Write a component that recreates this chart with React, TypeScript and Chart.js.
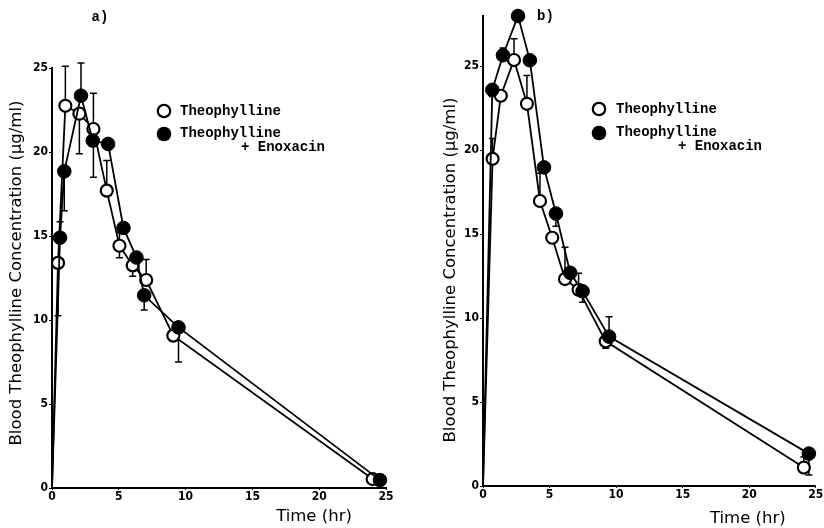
import React, { useEffect, useRef } from "react";
import { Chart, registerables } from "chart.js";

Chart.register(...registerables);

// ---------- shared labels ----------
const X_TICKS = [0, 5, 10, 15, 20, 25];
const Y_TICKS = [0, 5, 10, 15, 20, 25];
const X_TITLE = "Time (hr)";
const Y_TITLE = "Blood Theophylline Concentration (\u00b5g/ml)";
const LEGEND_OPEN = "Theophylline";
const LEGEND_FILLED_1 = "Theophylline";
const LEGEND_FILLED_2 = "+ Enoxacin";

// ---------- panel a ----------
const aTheoTime = [0, 0.45, 1.0, 2.05, 3.1, 4.1, 5.05, 6.04, 7.05, 9.08, 24.0];
const aTheoConc = [0, 13.4, 22.75, 22.28, 21.37, 17.7, 14.42, 13.25, 12.38, 9.07, 0.53];
const aTheoErrHi = [null, null, 25.1, null, 23.5, 19.5, 15.2, null, 13.6, null, null];
const aTheoErrLo = [null, 10.25, null, 19.9, 18.5, null, 13.7, 12.6, null, null, null];

const aEnoxTime = [0, 0.6, 0.92, 2.17, 3.05, 4.2, 5.35, 6.32, 6.9, 9.47, 24.55];
const aEnoxConc = [0, 14.9, 18.85, 23.35, 20.68, 20.48, 15.48, 13.72, 11.47, 9.56, 0.47];
const aEnoxErrHi = [null, 15.85, null, 25.3, null, null, null, null, null, 9.86, null];
const aEnoxErrLo = [null, null, 16.5, null, null, null, null, null, 10.6, 7.5, null];

// ---------- panel b ----------
const bTheoTime = [0, 0.72, 1.34, 2.33, 3.3, 4.28, 5.2, 6.16, 7.18, 9.22, 24.1];
const bTheoConc = [0, 19.49, 23.25, 25.38, 22.77, 16.98, 14.79, 12.33, 11.69, 8.62, 1.1];
const bTheoErrHi = [null, 20.7, null, 26.65, 24.45, 18.63, null, 14.22, 12.68, null, 1.73];
const bTheoErrLo = [null, null, null, null, null, null, null, null, null, 8.2, null];

const bEnoxTime = [0, 0.7, 1.5, 2.63, 3.52, 4.58, 5.48, 6.55, 7.48, 9.47, 24.48];
const bEnoxConc = [0, 23.6, 25.66, 28.0, 25.36, 18.98, 16.23, 12.7, 11.6, 8.9, 1.93];
const bEnoxErrHi = [null, null, 26.1, null, null, null, null, null, null, 10.09, null];
const bEnoxErrLo = [null, 23.2, null, null, null, null, 15.48, null, 10.95, null, 0.66];

const TICK_FONT_FAMILY = '"Liberation Sans Narrow", "DejaVu Sans Condensed", "Liberation Sans", sans-serif';
const LEGEND_FONT = 'bold 14px "Liberation Mono", "DejaVu Sans Mono", monospace';
const TITLE_FONT = '16.5px "DejaVu Sans", sans-serif';

type PanelCfg = {
  left: number;
  label: string;
  labelX: number;
  labelY: number;
  yMax: number;
  padTop: number;
  padRight: number;
  yWidth: number;
  xHeight: number;
  legMarkX: number;
  legTextX: number;
  legY1: number;
  legY2: number;
  legText2X: number;
  legY3: number;
  xTitleOffset: number;
  xTitleY: number;
  yTitleX: number;
  yTitleY: number;
  theo: { t: number[]; c: number[]; hi: (number | null)[]; lo: (number | null)[] };
  enox: { t: number[]; c: number[]; hi: (number | null)[]; lo: (number | null)[] };
};

const panelA: PanelCfg = {
  left: 0,
  label: "a)",
  labelX: 100,
  labelY: 17,
  yMax: 25,
  padTop: 68,
  padRight: 26,
  yWidth: 52,
  xHeight: 40,
  legMarkX: 164,
  legTextX: 180,
  legY1: 111,
  legY2: 134,
  legText2X: 241,
  legY3: 147,
  xTitleOffset: 72,
  xTitleY: 517,
  yTitleX: 16.5,
  yTitleY: 273,
  theo: { t: aTheoTime, c: aTheoConc, hi: aTheoErrHi, lo: aTheoErrLo },
  enox: { t: aEnoxTime, c: aEnoxConc, hi: aEnoxErrHi, lo: aEnoxErrLo },
};

const panelB: PanelCfg = {
  left: 412,
  label: "b)",
  labelX: 133.5,
  labelY: 16,
  yMax: 28,
  padTop: 16,
  padRight: 6,
  yWidth: 71,
  xHeight: 42,
  legMarkX: 187,
  legTextX: 204,
  legY1: 109,
  legY2: 133,
  legText2X: 266,
  legY3: 146,
  xTitleOffset: 68,
  xTitleY: 519,
  yTitleX: 39,
  yTitleY: 270,
  theo: { t: bTheoTime, c: bTheoConc, hi: bTheoErrHi, lo: bTheoErrLo },
  enox: { t: bEnoxTime, c: bEnoxConc, hi: bEnoxErrHi, lo: bEnoxErrLo },
};

const errorBarPlugin = {
  id: "errbars",
  beforeDatasetsDraw(chart: any) {
    const { ctx } = chart;
    const x = chart.scales.x;
    const y = chart.scales.y;
    ctx.save();
    ctx.strokeStyle = "#000";
    ctx.lineWidth = 1.5;
    chart.data.datasets.forEach((ds: any) => {
      ds.data.forEach((p: any, i: number) => {
        const px = x.getPixelForValue(p.x);
        const py = y.getPixelForValue(p.y);
        [ds.errHi ? ds.errHi[i] : null, ds.errLo ? ds.errLo[i] : null].forEach((v: any) => {
          if (v == null) return;
          const ey = y.getPixelForValue(v);
          ctx.beginPath();
          ctx.moveTo(px, py);
          ctx.lineTo(px, ey);
          ctx.moveTo(px - 3.5, ey);
          ctx.lineTo(px + 3.5, ey);
          ctx.stroke();
        });
      });
    });
    ctx.restore();
  },
};

function makeDecor(cfg: PanelCfg) {
  return {
    id: "decor",
    afterDraw(chart: any) {
      const ctx = chart.ctx;
      const ca = chart.chartArea;
      ctx.save();
      ctx.fillStyle = "#000";
      ctx.strokeStyle = "#000";

      // panel label
      ctx.font = LEGEND_FONT;
      ctx.textAlign = "center";
      ctx.textBaseline = "middle";
      ctx.fillText(cfg.label, cfg.labelX, cfg.labelY);

      // legend markers
      ctx.lineWidth = 2.2;
      ctx.beginPath();
      ctx.arc(cfg.legMarkX, cfg.legY1, 6.2, 0, Math.PI * 2);
      ctx.fillStyle = "#fff";
      ctx.fill();
      ctx.stroke();
      ctx.fillStyle = "#000";
      ctx.beginPath();
      ctx.arc(cfg.legMarkX, cfg.legY2, 7.3, 0, Math.PI * 2);
      ctx.fill();

      // legend texts
      ctx.textAlign = "left";
      ctx.fillText(LEGEND_OPEN, cfg.legTextX, cfg.legY1);
      ctx.fillText(LEGEND_FILLED_1, cfg.legTextX, cfg.legY2 - 1);
      ctx.fillText(LEGEND_FILLED_2, cfg.legText2X, cfg.legY3);

      // axis titles
      ctx.font = TITLE_FONT;
      ctx.textAlign = "center";
      ctx.fillText(X_TITLE, ca.right - cfg.xTitleOffset, cfg.xTitleY);
      ctx.translate(cfg.yTitleX, cfg.yTitleY);
      ctx.rotate(-Math.PI / 2);
      ctx.fillText(Y_TITLE, 0, 0);
      ctx.restore();
    },
  };
}

function Panel({ cfg }: { cfg: PanelCfg }) {
  const ref = useRef<HTMLCanvasElement>(null);
  useEffect(() => {
    const mk = (s: PanelCfg["theo"], filled: boolean) => ({
      label: filled ? LEGEND_FILLED_1 + " " + LEGEND_FILLED_2 : LEGEND_OPEN,
      data: s.t.map((t, i) => ({ x: t, y: s.c[i] })),
      errHi: s.hi,
      errLo: s.lo,
      borderColor: "#000",
      borderWidth: 1.8,
      backgroundColor: filled ? "#000" : "#fff",
      pointBackgroundColor: filled ? "#000" : "#fff",
      pointBorderColor: "#000",
      pointBorderWidth: filled ? 1 : 2.2,
      pointRadius: (ctx: any) => (ctx.dataIndex === 0 ? 0 : filled ? 6.8 : 6),
      pointHoverRadius: (ctx: any) => (ctx.dataIndex === 0 ? 0 : filled ? 6.8 : 6),
      tension: 0,
      fill: false,
      clip: false as any,
    });
    const chart = new Chart(ref.current as HTMLCanvasElement, {
      type: "line",
      data: { datasets: [mk(cfg.enox, true), mk(cfg.theo, false)] as any },
      options: {
        animation: false,
        responsive: false,
        devicePixelRatio: 1,
        layout: { padding: { left: 0, top: cfg.padTop, right: cfg.padRight, bottom: 0 } },
        plugins: { legend: { display: false }, tooltip: { enabled: false }, title: { display: false } },
        scales: {
          x: {
            type: "linear",
            min: 0,
            max: 25,
            afterBuildTicks: (s: any) => {
              s.ticks = X_TICKS.map((v) => ({ value: v }));
            },
            afterFit: (s: any) => {
              s.height = cfg.xHeight;
            },
            ticks: {
              color: "#000",
              padding: 0,
              maxRotation: 0,
              autoSkip: false,
              font: { family: TICK_FONT_FAMILY, size: 12, weight: "bold" },
            },
            grid: { display: true, drawOnChartArea: false, drawTicks: true, tickLength: 2, color: "#000" },
            border: { display: true, color: "#000", width: 2 },
          },
          y: {
            type: "linear",
            min: 0,
            max: cfg.yMax,
            afterBuildTicks: (s: any) => {
              s.ticks = Y_TICKS.map((v) => ({ value: v }));
            },
            afterFit: (s: any) => {
              s.width = cfg.yWidth;
            },
            ticks: {
              color: "#000",
              padding: 1,
              autoSkip: false,
              font: { family: TICK_FONT_FAMILY, size: 12, weight: "bold" },
            },
            grid: { display: true, drawOnChartArea: false, drawTicks: true, tickLength: 3, color: "#000" },
            border: { display: true, color: "#000", width: 2 },
          },
        },
      },
      plugins: [errorBarPlugin, makeDecor(cfg)],
    } as any);
    return () => chart.destroy();
  }, [cfg]);
  return (
    <canvas
      ref={ref}
      width={412}
      height={528}
      style={{ position: "absolute", left: cfg.left, top: 0, width: 412, height: 528 }}
    />
  );
}

export default function App() {
  return (
    <div
      style={{
        position: "absolute",
        left: 0,
        top: 0,
        width: 824,
        height: 528,
        background: "#fff",
        overflow: "hidden",
      }}
    >
      <Panel cfg={panelA} />
      <Panel cfg={panelB} />
    </div>
  );
}
